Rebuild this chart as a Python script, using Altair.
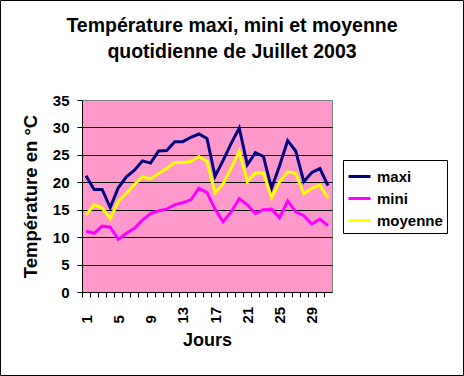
import altair as alt
import pandas as pd

jours = list(range(1, 32))
maxi = [21.2, 18.7, 18.7, 15.4, 19.0, 21.0, 22.2, 23.9, 23.5, 25.7, 25.8, 27.4, 27.4, 28.2, 28.8, 28.0,
        21.1, 24.0, 27.1, 29.9, 23.2, 25.4, 24.7, 18.9, 23.0, 27.6, 25.7, 20.1, 21.8, 22.5, 19.4]
mini = [11.1, 10.7, 12.0, 11.8, 9.6, 10.7, 11.6, 13.1, 14.3, 14.8, 15.1, 15.9, 16.3, 16.8, 18.9, 18.1,
        15.1, 12.8, 14.6, 17.0, 15.9, 14.3, 15.0, 15.1, 13.5, 16.6, 14.6, 13.9, 12.4, 13.3, 12.1]
moyenne = [14.0, 15.9, 15.3, 13.4, 16.5, 18.0, 19.6, 21.0, 20.6, 21.6, 22.5, 23.6, 23.6, 23.8, 24.7, 23.8,
           18.1, 19.7, 22.6, 25.7, 20.1, 21.7, 21.7, 17.2, 20.1, 21.9, 21.6, 17.9, 18.9, 19.5, 17.1]
series = ["maxi", "mini", "moyenne"]
colors = ["#000080", "#FF00FF", "#FFFF00"]
y_ticks = [0, 5, 10, 15, 20, 25, 30, 35]

rows = []
for name, vals in zip(series, [maxi, mini, moyenne]):
    for d, v in zip(jours, vals):
        rows.append({"jour": d, "temp": v, "serie": name})
df = pd.DataFrame(rows)

FONT = "Liberation Sans"
half_band = 250 / 31 / 2

lines = alt.Chart(df).mark_line(strokeWidth=3).encode(
    x=alt.X("jour:Q",
            scale=alt.Scale(domain=[0.5, 31.5], nice=False, zero=False),
            axis=alt.Axis(values=jours, tickOffset=-half_band, labelOffset=half_band,
                          labelExpr="(datum.value - 1) % 4 == 0 ? datum.label : ''",
                          labelAngle=270, labelAlign="left", labelBaseline="middle",
                          labelPadding=26, tickSize=5, tickColor="black", domainColor="black",
                          grid=False, labelFont=FONT, labelFontSize=15, labelFontWeight="bold",
                          labelColor="black", title="Jours", titleFont=FONT, titleFontSize=18,
                          titleFontWeight="bold", titleColor="black", titlePadding=8,
                          labelOverlap=False, labelFlush=False)),
    y=alt.Y("temp:Q",
            scale=alt.Scale(domain=[0, 35], nice=False),
            axis=alt.Axis(values=y_ticks, tickSize=5, tickColor="black", domainColor="black",
                          grid=True, gridColor="black",
                          gridOpacity={"condition": {"test": "datum.value >= 35 || datum.value <= 0", "value": 0}, "value": 1},
                          labelFont=FONT, labelFontSize=15, labelFontWeight="bold", labelColor="black",
                          labelPadding=8, title="Température en °C", titleFont=FONT, titleFontSize=18.5,
                          titleFontWeight="bold", titleColor="black", titlePadding=12)),
    color=alt.Color("serie:N",
                    scale=alt.Scale(domain=series, range=colors),
                    legend=alt.Legend(title=None, orient="none", legendX=261, legendY=60,
                                      strokeColor="black", fillColor="white", padding=4,
                                      symbolType="stroke", symbolSize=484, symbolStrokeWidth=3,
                                      labelFont=FONT, labelFontSize=15, labelFontWeight="bold",
                                      labelColor="black", labelOffset=5, rowPadding=1)),
)

frame = alt.Chart(pd.DataFrame({"a": [0]})).mark_rect(fill="transparent", stroke="black", strokeWidth=1).encode(
    x=alt.value(-81.5), x2=alt.value(381.5), y=alt.value(-99.5), y2=alt.value(275.5)
)

chart = alt.layer(lines, frame).properties(
    width=250, height=192,
    autosize=alt.AutoSizeParams(type="none"),
    padding={"left": 82, "top": 100, "right": 132, "bottom": 84},
    background="white",
    title=alt.TitleParams(text=["Température maxi, mini et moyenne", "quotidienne de Juillet 2003"],
                          font=FONT, fontSize=19.5, fontWeight="bold", color="black",
                          anchor="middle", frame="group", baseline="bottom",
                          dx=25, dy=81, lineHeight=26, offset=0),
).configure_view(fill="#FF99CC", stroke="#808080", strokeWidth=1)

chart.save("out.html", embed_options={"renderer": "svg", "actions": False})
